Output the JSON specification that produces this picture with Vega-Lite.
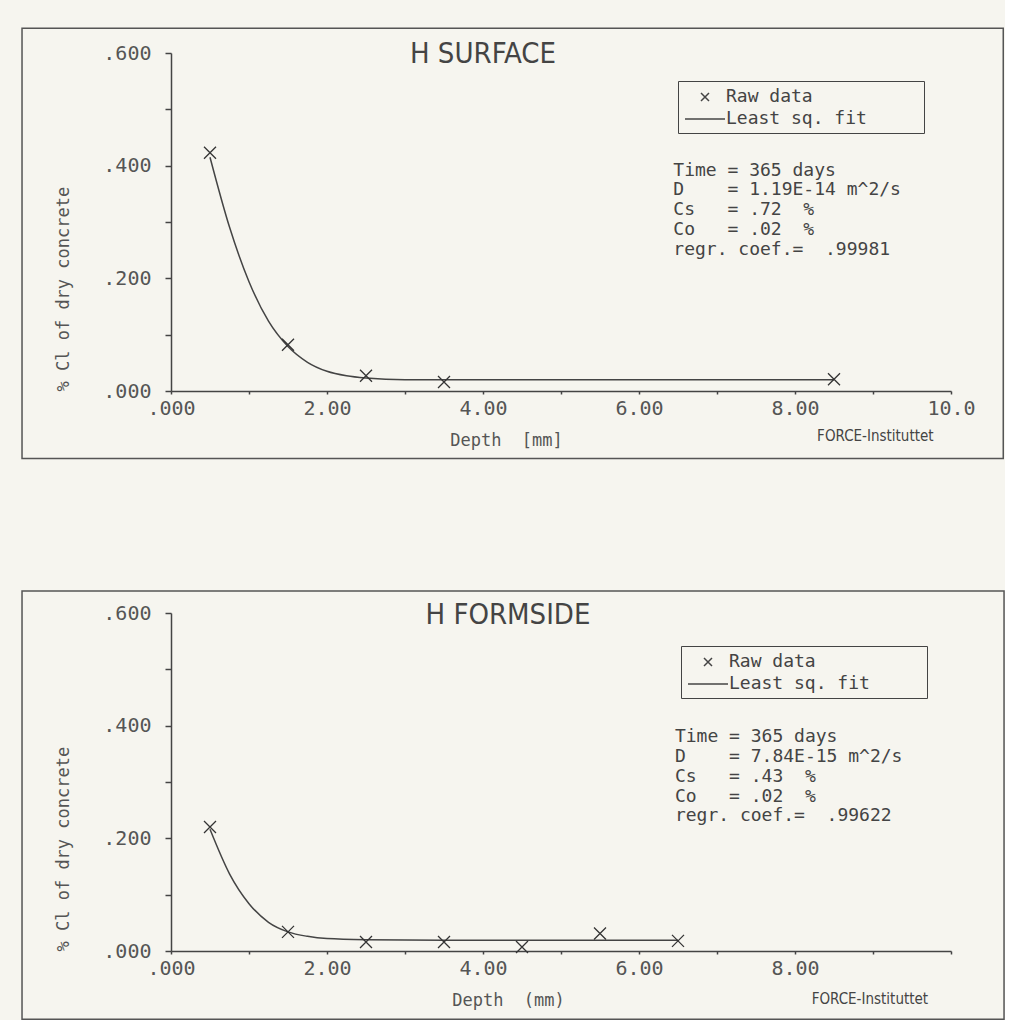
{
  "$schema": "https://vega.github.io/schema/vega-lite/v6.json",
  "background": "#f6f5ef",
  "padding": {"left": 21, "top": 27, "right": 0, "bottom": 0},
  "spacing": 130,
  "datasets": {
    "surface_raw": [
      {"depth": 0.5, "cl": 0.423, "series": "Raw data"},
      {"depth": 1.5, "cl": 0.082, "series": "Raw data"},
      {"depth": 2.5, "cl": 0.027, "series": "Raw data"},
      {"depth": 3.5, "cl": 0.016, "series": "Raw data"},
      {"depth": 8.5, "cl": 0.021, "series": "Raw data"}
    ],
    "surface_fit": [
      {"depth": 0.5, "cl": 0.415}, {"depth": 0.75, "cl": 0.291}, {"depth": 1.0, "cl": 0.194},
      {"depth": 1.25, "cl": 0.124}, {"depth": 1.5, "cl": 0.079}, {"depth": 1.75, "cl": 0.051},
      {"depth": 2.0, "cl": 0.035}, {"depth": 2.25, "cl": 0.027}, {"depth": 2.5, "cl": 0.023},
      {"depth": 3.0, "cl": 0.020}, {"depth": 4.0, "cl": 0.020}, {"depth": 6.0, "cl": 0.020},
      {"depth": 8.5, "cl": 0.020}
    ],
    "formside_raw": [
      {"depth": 0.5, "cl": 0.220, "series": "Raw data"},
      {"depth": 1.5, "cl": 0.034, "series": "Raw data"},
      {"depth": 2.5, "cl": 0.016, "series": "Raw data"},
      {"depth": 3.5, "cl": 0.016, "series": "Raw data"},
      {"depth": 4.5, "cl": 0.007, "series": "Raw data"},
      {"depth": 5.5, "cl": 0.031, "series": "Raw data"},
      {"depth": 6.5, "cl": 0.018, "series": "Raw data"}
    ],
    "formside_fit": [
      {"depth": 0.5, "cl": 0.216}, {"depth": 0.75, "cl": 0.137}, {"depth": 1.0, "cl": 0.084},
      {"depth": 1.25, "cl": 0.051}, {"depth": 1.5, "cl": 0.034}, {"depth": 1.75, "cl": 0.026},
      {"depth": 2.0, "cl": 0.022}, {"depth": 2.5, "cl": 0.020}, {"depth": 3.5, "cl": 0.019},
      {"depth": 5.0, "cl": 0.019}, {"depth": 6.5, "cl": 0.019}
    ],
    "surface_stats": [
      {"text": "Time = 365 days\nD\u00a0\u00a0\u00a0\u00a0= 1.19E-14 m^2/s\nCs\u00a0\u00a0\u00a0= .72\u00a0\u00a0%\nCo\u00a0\u00a0\u00a0= .02\u00a0\u00a0%\nregr. coef.=\u00a0\u00a0.99981"}
    ],
    "formside_stats": [
      {"text": "Time = 365 days\nD\u00a0\u00a0\u00a0\u00a0= 7.84E-15 m^2/s\nCs\u00a0\u00a0\u00a0= .43\u00a0\u00a0%\nCo\u00a0\u00a0\u00a0= .02\u00a0\u00a0%\nregr. coef.=\u00a0\u00a0.99622"}
    ],
    "surface_title": [{"text": "H SURFACE"}],
    "formside_title": [{"text": "H FORMSIDE"}],
    "credit": [{"text": "FORCE-Instituttet"}],
    "frame": [{}]
  },
  "resolve": {"scale": {"shape": "independent"}, "legend": {"shape": "independent"}},
  "vconcat": [
    {
      "width": 780,
      "height": 338,
      "layer": [
        {
          "data": {"name": "frame"},
          "mark": {"type": "rect", "fill": null, "stroke": "#555", "strokeWidth": 1.5},
          "encoding": {
            "x": {"datum": -1.91, "type": "quantitative", "scale": {"domain": [0, 10]}},
            "x2": {"datum": 10.67},
            "y": {"datum": -0.12, "type": "quantitative", "scale": {"domain": [0, 0.6]}},
            "y2": {"datum": 0.644}
          }
        },
        {
          "data": {"name": "surface_fit"},
          "mark": {"type": "line", "interpolate": "monotone", "color": "#444", "strokeWidth": 1.5},
          "encoding": {
            "x": {"field": "depth", "type": "quantitative", "scale": {"domain": [0, 10]}},
            "y": {"field": "cl", "type": "quantitative", "scale": {"domain": [0, 0.6]}}
          }
        },
        {
          "data": {"name": "surface_raw"},
          "mark": {"type": "point", "filled": false, "size": 900, "strokeWidth": 1.3, "color": "#333", "opacity": 1},
          "encoding": {
            "x": {"field": "depth", "type": "quantitative", "scale": {"domain": [0, 10]},
              "axis": {"title": "Depth\u00a0\u00a0[mm]", "titleX": 335, "values": [0, 1, 2, 3, 4, 5, 6, 7, 8, 9, 10],
                "labelExpr": "datum.value % 2 ? '' : datum.value == 0 ? '.000' : datum.value == 10 ? '10.0' : format(datum.value, '.2f')"}},
            "y": {"field": "cl", "type": "quantitative", "scale": {"domain": [0, 0.6]},
              "axis": {"title": "% Cl of dry concrete", "titleAnchor": "start", "values": [0, 0.1, 0.2, 0.3, 0.4, 0.5, 0.6],
                "labelExpr": "round(datum.value * 10) % 2 ? '' : substring(format(datum.value, '.3f'), 1)"}},
            "shape": {"field": "series", "type": "nominal",
              "scale": {"domain": ["Raw data", "Least sq. fit"], "range": ["M-0.4,-0.4L0.4,0.4M-0.4,0.4L0.4,-0.4", "M-2,0L2,0"]},
              "legend": {"title": null, "orient": "none", "legendX": 507, "legendY": 28, "strokeColor": "#444", "padding": 5,
                "labelFont": "DejaVu Sans Mono", "labelFontSize": 18, "labelColor": "#444", "labelOffset": 10, "symbolOffset": 11,
                "labelLimit": 400,
                "symbolSize": 400, "symbolStrokeColor": "#444", "symbolStrokeWidth": 1.5, "rowPadding": 2,
                "labelExpr": "datum.label + '\u2800\u2800\u2800\u2800'"}}
          }
        },
        {
          "data": {"name": "surface_title"},
          "mark": {"type": "text", "align": "center", "baseline": "alphabetic", "font": "Liberation Sans Narrow, DejaVu Sans Condensed, Roboto", "fontSize": 29, "color": "#444"},
          "encoding": {
            "x": {"datum": 4.0, "type": "quantitative", "scale": {"domain": [0, 10]}},
            "y": {"datum": 0.582, "type": "quantitative", "scale": {"domain": [0, 0.6]}},
            "text": {"field": "text"}
          }
        },
        {
          "data": {"name": "surface_stats"},
          "mark": {"type": "text", "align": "left", "baseline": "top", "lineBreak": "\n", "lineHeight": 19.7, "font": "DejaVu Sans Mono", "fontSize": 18, "color": "#444"},
          "encoding": {
            "x": {"datum": 6.44, "type": "quantitative", "scale": {"domain": [0, 10]}},
            "y": {"datum": 0.407, "type": "quantitative", "scale": {"domain": [0, 0.6]}},
            "text": {"field": "text"}
          }
        },
        {
          "data": {"name": "credit"},
          "mark": {"type": "text", "align": "center", "baseline": "middle", "font": "Liberation Sans Narrow, DejaVu Sans Condensed, Roboto", "fontSize": 15, "color": "#444"},
          "encoding": {
            "x": {"datum": 9.03, "type": "quantitative", "scale": {"domain": [0, 10]}},
            "y": {"datum": -0.08, "type": "quantitative", "scale": {"domain": [0, 0.6]}},
            "text": {"field": "text"}
          }
        }
      ]
    },
    {
      "width": 780,
      "height": 338,
      "layer": [
        {
          "data": {"name": "frame"},
          "mark": {"type": "rect", "fill": null, "stroke": "#555", "strokeWidth": 1.5},
          "encoding": {
            "x": {"datum": -1.91, "type": "quantitative", "scale": {"domain": [0, 10]}},
            "x2": {"datum": 10.68},
            "y": {"datum": -0.121, "type": "quantitative", "scale": {"domain": [0, 0.6]}},
            "y2": {"datum": 0.639}
          }
        },
        {
          "data": {"name": "formside_fit"},
          "mark": {"type": "line", "interpolate": "monotone", "color": "#444", "strokeWidth": 1.5},
          "encoding": {
            "x": {"field": "depth", "type": "quantitative", "scale": {"domain": [0, 10]}},
            "y": {"field": "cl", "type": "quantitative", "scale": {"domain": [0, 0.6]}}
          }
        },
        {
          "data": {"name": "formside_raw"},
          "mark": {"type": "point", "filled": false, "size": 900, "strokeWidth": 1.3, "color": "#333", "opacity": 1},
          "encoding": {
            "x": {"field": "depth", "type": "quantitative", "scale": {"domain": [0, 10]},
              "axis": {"title": "Depth\u00a0\u00a0(mm)", "titleX": 337, "values": [0, 1, 2, 3, 4, 5, 6, 7, 8, 9, 10],
                "labelExpr": "datum.value % 2 || datum.value == 10 ? '' : datum.value == 0 ? '.000' : format(datum.value, '.2f')"}},
            "y": {"field": "cl", "type": "quantitative", "scale": {"domain": [0, 0.6]},
              "axis": {"title": "% Cl of dry concrete", "titleAnchor": "start", "values": [0, 0.1, 0.2, 0.3, 0.4, 0.5, 0.6],
                "labelExpr": "round(datum.value * 10) % 2 ? '' : substring(format(datum.value, '.3f'), 1)"}},
            "shape": {"field": "series", "type": "nominal",
              "scale": {"domain": ["Raw data", "Least sq. fit"], "range": ["M-0.4,-0.4L0.4,0.4M-0.4,0.4L0.4,-0.4", "M-2,0L2,0"]},
              "legend": {"title": null, "orient": "none", "legendX": 510, "legendY": 33, "strokeColor": "#444", "padding": 5,
                "labelFont": "DejaVu Sans Mono", "labelFontSize": 18, "labelColor": "#444", "labelOffset": 10, "symbolOffset": 11,
                "labelLimit": 400,
                "symbolSize": 400, "symbolStrokeColor": "#444", "symbolStrokeWidth": 1.5, "rowPadding": 2,
                "labelExpr": "datum.label + '\u2800\u2800\u2800\u2800'"}}
          }
        },
        {
          "data": {"name": "formside_title"},
          "mark": {"type": "text", "align": "center", "baseline": "alphabetic", "font": "Liberation Sans Narrow, DejaVu Sans Condensed, Roboto", "fontSize": 29, "color": "#444"},
          "encoding": {
            "x": {"datum": 4.32, "type": "quantitative", "scale": {"domain": [0, 10]}},
            "y": {"datum": 0.58, "type": "quantitative", "scale": {"domain": [0, 0.6]}},
            "text": {"field": "text"}
          }
        },
        {
          "data": {"name": "formside_stats"},
          "mark": {"type": "text", "align": "left", "baseline": "top", "lineBreak": "\n", "lineHeight": 19.7, "font": "DejaVu Sans Mono", "fontSize": 18, "color": "#444"},
          "encoding": {
            "x": {"datum": 6.46, "type": "quantitative", "scale": {"domain": [0, 10]}},
            "y": {"datum": 0.395, "type": "quantitative", "scale": {"domain": [0, 0.6]}},
            "text": {"field": "text"}
          }
        },
        {
          "data": {"name": "credit"},
          "mark": {"type": "text", "align": "center", "baseline": "middle", "font": "Liberation Sans Narrow, DejaVu Sans Condensed, Roboto", "fontSize": 15, "color": "#444"},
          "encoding": {
            "x": {"datum": 8.96, "type": "quantitative", "scale": {"domain": [0, 10]}},
            "y": {"datum": -0.085, "type": "quantitative", "scale": {"domain": [0, 0.6]}},
            "text": {"field": "text"}
          }
        }
      ]
    }
  ],
  "config": {
    "view": {"stroke": null},
    "axis": {
      "grid": false,
      "labelFont": "DejaVu Sans Mono",
      "labelFontSize": 20,
      "labelColor": "#555",
      "labelFlush": false,
      "labelOverlap": false,
      "domainColor": "#444",
      "domainWidth": 1.5,
      "tickColor": "#444",
      "tickWidth": 1.5,
      "titleFont": "DejaVu Sans Mono",
      "titleFontSize": 17,
      "titleFontWeight": "normal",
      "titleColor": "#555"
    },
    "axisX": {"tickSize": 3, "labelPadding": 4, "titlePadding": 14},
    "axisY": {"tickSize": 6, "labelPadding": 14, "titlePadding": 30}
  }
}
